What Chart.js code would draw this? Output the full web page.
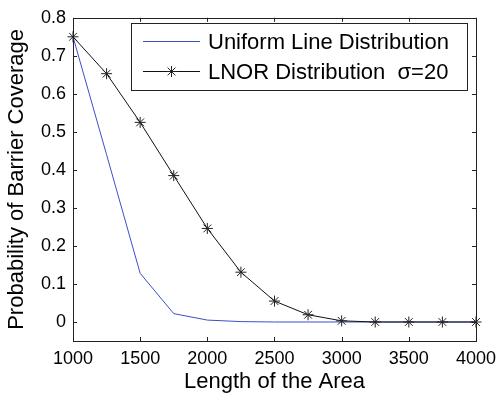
<!DOCTYPE html>
<html lang="en">
<head>
    <meta charset="UTF-8">
    <title>Probability of Barrier Coverage</title>
    <style>
        body { margin: 0; background: #fff; }
        canvas { display: block; }
    </style>
</head>
<body>
    <canvas id="coverageChart" width="503" height="397"></canvas>
    <script src="https://cdn.jsdelivr.net/npm/chart.js"></script>
    <script>
const lengths = [1000, 1250, 1500, 1750, 2000, 2250, 2500, 2750, 3000, 3250, 3500, 3750, 4000];
const uniformValues = [0.75, 0.44, 0.128, 0.022, 0.005, 0.001, 0, 0, 0, 0, 0, 0, 0];
const lnorValues = [0.75, 0.653, 0.525, 0.385, 0.246, 0.131, 0.055, 0.019, 0.003, 0, 0, 0, 0];
const xTickValues = [1000, 1500, 2000, 2500, 3000, 3500, 4000];
const yTickValues = [0, 0.1, 0.2, 0.3, 0.4, 0.5, 0.6, 0.7, 0.8];

const FONT = "'Liberation Sans', Arial, Helvetica, sans-serif";

function toPoints(values) {
    return values.map((v, i) => ({ x: lengths[i], y: v }));
}

// ticks pointing inwards on all four sides, plus the box around the axes
const axesBox = {
    id: 'axesBox',
    afterDraw(chart) {
        const { ctx, chartArea: a, scales } = chart;
        const len = 4;
        ctx.save();
        ctx.strokeStyle = '#222';
        ctx.lineWidth = 1;
        ctx.beginPath();
        scales.x.ticks.forEach(t => {
            const px = Math.round(scales.x.getPixelForValue(t.value)) + 0.5;
            ctx.moveTo(px, a.bottom); ctx.lineTo(px, a.bottom - len);
            ctx.moveTo(px, a.top); ctx.lineTo(px, a.top + len);
        });
        scales.y.ticks.forEach(t => {
            const py = Math.round(scales.y.getPixelForValue(t.value)) + 0.5;
            ctx.moveTo(a.left, py); ctx.lineTo(a.left + len, py);
            ctx.moveTo(a.right, py); ctx.lineTo(a.right - len, py);
        });
        ctx.stroke();
        ctx.strokeRect(Math.round(a.left) + 0.5, Math.round(a.top) + 0.5,
            Math.round(a.right - a.left), Math.round(a.bottom - a.top));
        ctx.restore();
    }
};

// boxed legend in the upper right of the plot
const boxLegend = {
    id: 'boxLegend',
    afterDraw(chart) {
        const { ctx } = chart;
        const x0 = 131, y0 = 23, w = 336, h = 67;
        ctx.save();
        ctx.fillStyle = '#fff';
        ctx.fillRect(x0, y0, w, h);
        ctx.strokeStyle = '#222';
        ctx.lineWidth = 1;
        ctx.strokeRect(x0 + 0.5, y0 + 0.5, w, h);
        ctx.font = '22px ' + FONT;
        ctx.textBaseline = 'middle';
        ctx.textAlign = 'left';
        chart.data.datasets.forEach((ds, i) => {
            const y = y0 + 18.5 + i * 30;
            ctx.strokeStyle = ds.borderColor;
            ctx.lineWidth = ds.borderWidth;
            ctx.beginPath();
            ctx.moveTo(x0 + 12, y);
            ctx.lineTo(x0 + 69, y);
            ctx.stroke();
            if (ds.pointStyle && ds.pointRadius > 0) {
                ctx.strokeStyle = ds.pointBorderColor;
                Chart.helpers.drawPoint(ctx, {
                    pointStyle: ds.pointStyle, radius: ds.pointRadius,
                    borderWidth: ds.pointBorderWidth, rotation: 0
                }, x0 + 40.5, y);
            }
            ctx.fillStyle = '#000';
            ctx.fillText(ds.label, x0 + 77, y + 1);
        });
        ctx.restore();
    }
};

const ctx = document.getElementById('coverageChart').getContext('2d');
const coverageChart = new Chart(ctx, {
    type: 'line',
    data: {
        datasets: [
            {
                label: 'Uniform Line Distribution',
                data: toPoints(uniformValues),
                borderColor: '#3a50c8',
                borderWidth: 1,
                pointRadius: 0,
                tension: 0,
                clip: false,
                order: 1
            },
            {
                label: 'LNOR Distribution  \u03c3=20',
                data: toPoints(lnorValues),
                borderColor: '#111',
                borderWidth: 1,
                pointStyle: 'star',
                pointRadius: 5.5,
                pointBorderColor: '#222',
                pointBorderWidth: 1,
                pointBackgroundColor: 'transparent',
                tension: 0,
                clip: false,
                order: 0
            }
        ]
    },
    options: {
        responsive: false,
        animation: false,
        devicePixelRatio: 1,
        layout: { padding: { top: 15, right: 26, left: 0, bottom: 0 } },
        plugins: {
            legend: { display: false },
            tooltip: { enabled: false }
        },
        scales: {
            x: {
                type: 'linear',
                min: 1000,
                max: 4000,
                afterBuildTicks: s => { s.ticks = xTickValues.map(v => ({ value: v })); },
                afterFit: s => { s.height = 56; },
                grid: { display: false, drawTicks: false },
                border: { display: false },
                ticks: {
                    autoSkip: false,
                    maxRotation: 0,
                    padding: 7,
                    color: '#000',
                    font: { family: FONT, size: 18 },
                    callback: v => String(v)
                },
                title: {
                    display: true,
                    text: 'Length of the Area',
                    color: '#000',
                    padding: { top: 0, bottom: 2 },
                    font: { family: FONT, size: 22 }
                }
            },
            y: {
                type: 'linear',
                min: -0.05,
                max: 0.8,
                afterBuildTicks: s => { s.ticks = yTickValues.map(v => ({ value: v })); },
                afterFit: s => { s.width = 73; },
                grid: { display: false, drawTicks: false },
                border: { display: false },
                ticks: {
                    padding: 7,
                    color: '#000',
                    font: { family: FONT, size: 18 },
                    callback: v => (v === 0 ? '0' : v.toFixed(1))
                },
                title: {
                    display: true,
                    text: 'Probability of Barrier Coverage',
                    color: '#000',
                    padding: { top: 4, bottom: 0 },
                    font: { family: FONT, size: 22 }
                }
            }
        }
    },
    plugins: [axesBox, boxLegend]
});
    </script>
</body>
</html>
